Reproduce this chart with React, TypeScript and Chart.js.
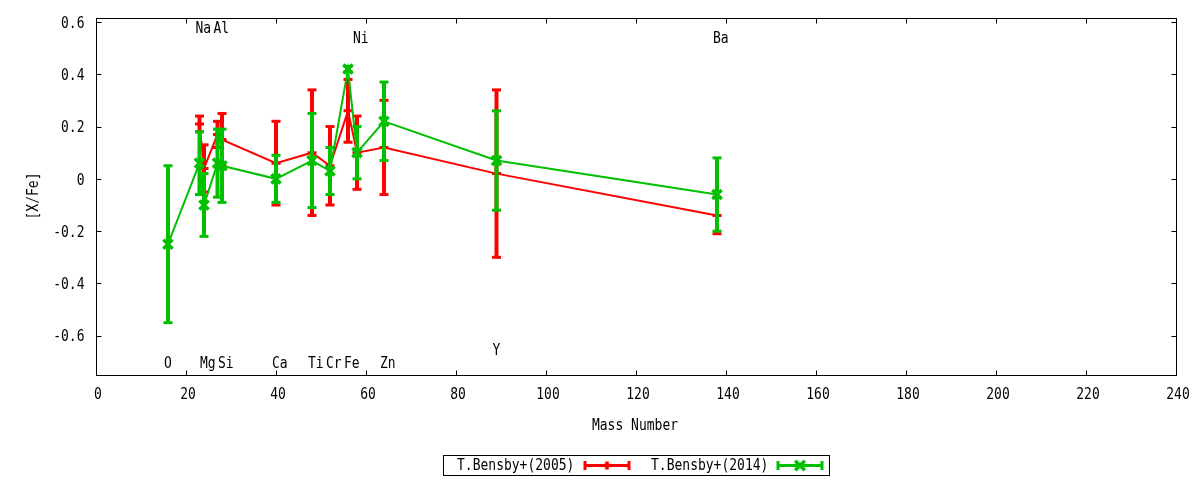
import React, { useEffect, useRef } from "react";
import { Chart, registerables } from "chart.js";

Chart.register(...registerables);

const series2005Name = "T.Bensby+(2005)";
const series2014Name = "T.Bensby+(2014)";

const mass2005 = [23, 24, 27, 28, 40, 48, 52, 56, 58, 64, 89, 138];
const value2005 = [0.21, 0.04, 0.17, 0.15, 0.06, 0.1, 0.05, 0.26, 0.1, 0.12, 0.02, -0.14];
const error2005 = [0.03, 0.09, 0.05, 0.1, 0.16, 0.24, 0.15, 0.12, 0.14, 0.18, 0.32, 0.07];

const mass2014 = [16, 23, 24, 27, 28, 40, 48, 52, 56, 58, 64, 89, 138];
const value2014 = [-0.25, 0.06, -0.1, 0.06, 0.05, 0.0, 0.07, 0.03, 0.42, 0.1, 0.22, 0.07, -0.06];
const error2014 = [0.3, 0.12, 0.12, 0.13, 0.14, 0.09, 0.18, 0.09, 0.01, 0.1, 0.15, 0.19, 0.14];

const elementNames = ["O", "Na", "Mg", "Al", "Si", "Ca", "Ti", "Cr", "Fe", "Ni", "Zn", "Y", "Ba"];
const elementMass = [16, 23, 24, 27, 28, 40, 48, 52, 56, 58, 64, 89, 138];
const elementLabelY = [-0.7, 0.58, -0.7, 0.58, -0.7, -0.7, -0.7, -0.7, -0.7, 0.54, -0.7, -0.65, 0.54];

const xTicks = [0, 20, 40, 60, 80, 100, 120, 140, 160, 180, 200, 220, 240];
const yTicks = [-0.6, -0.4, -0.2, 0, 0.2, 0.4, 0.6];
const xRange = [0, 240];
const yRange = [-0.75, 0.615];

const xTitle = "Mass Number";
const yTitle = "[X/Fe]";

const RED = "#ff0000";
const GREEN = "#00c000";
const FONT_FAMILY = '"DejaVu Sans Mono", "Liberation Mono", monospace';
const FONT = `13px ${FONT_FAMILY}`;
const STRETCH = 1.22;

const errorSets = [
  { mass: mass2005, value: value2005, error: error2005, color: RED },
  { mass: mass2014, value: value2014, error: error2014, color: GREEN },
];

function text(ctx: CanvasRenderingContext2D, s: string, x: number, y: number, align: CanvasTextAlign, rot = 0) {
  ctx.save();
  ctx.translate(x, y);
  if (rot) ctx.rotate(rot);
  ctx.scale(1, STRETCH);
  ctx.textAlign = align;
  ctx.textBaseline = "middle";
  ctx.fillText(s, 0, 1.3);
  ctx.restore();
}

function drawMarker(ctx: CanvasRenderingContext2D, style: string, x: number, y: number, r: number, color: string, w: number) {
  ctx.save();
  ctx.strokeStyle = color;
  ctx.lineWidth = w;
  ctx.beginPath();
  if (style === "cross") {
    ctx.moveTo(x - r, y);
    ctx.lineTo(x + r, y);
    ctx.moveTo(x, y - r);
    ctx.lineTo(x, y + r);
  } else {
    const d = r * 0.8;
    ctx.moveTo(x - d, y - d);
    ctx.lineTo(x + d, y + d);
    ctx.moveTo(x - d, y + d);
    ctx.lineTo(x + d, y - d);
  }
  ctx.stroke();
  ctx.restore();
}

const gnuplotPlugin = {
  id: "gnuplotLook",
  beforeDatasetsDraw(chart: any) {
    const { ctx, chartArea: a, scales } = chart;
    ctx.save();
    ctx.strokeStyle = "#000";
    ctx.lineWidth = 1;
    const L = Math.round(a.left) + 0.5;
    const R = Math.round(a.right) + 0.5;
    const T = Math.round(a.top) + 0.5;
    const B = Math.round(a.bottom) + 0.5;
    ctx.strokeRect(L, T, R - L, B - T);
    ctx.beginPath();
    const tl = 5;
    for (const t of scales.x.ticks) {
      const px = Math.round(scales.x.getPixelForValue(t.value)) + 0.5;
      ctx.moveTo(px, B);
      ctx.lineTo(px, B - tl);
      ctx.moveTo(px, T);
      ctx.lineTo(px, T + tl);
    }
    for (const t of scales.y.ticks) {
      const py = Math.round(scales.y.getPixelForValue(t.value)) + 0.5;
      ctx.moveTo(L, py);
      ctx.lineTo(L + tl, py);
      ctx.moveTo(R, py);
      ctx.lineTo(R - tl, py);
    }
    ctx.stroke();

    // tick labels
    ctx.fillStyle = "#000";
    ctx.font = FONT;
    for (const t of scales.x.ticks) {
      const px = scales.x.getPixelForValue(t.value);
      text(ctx, String(t.value), px + 2, B + 18, "center");
    }
    for (const t of scales.y.ticks) {
      const py = scales.y.getPixelForValue(t.value);
      text(ctx, String(Math.round(t.value * 10) / 10), L - 12, py, "right");
    }
    ctx.restore();
  },
  beforeDatasetDraw(chart: any, args: any) {
    const set = errorSets[args.index];
    if (!set) return;
    const { ctx, scales } = chart;
    ctx.save();
    ctx.fillStyle = set.color;
    set.mass.forEach((m, i) => {
      const x = scales.x.getPixelForValue(m);
      const yt = scales.y.getPixelForValue(set.value[i] + set.error[i]);
      const yb = scales.y.getPixelForValue(set.value[i] - set.error[i]);
      ctx.fillRect(x - 2, yt, 4, yb - yt);
      ctx.fillRect(x - 4.5, yt - 1.5, 9, 3);
      ctx.fillRect(x - 4.5, yb - 1.5, 9, 3);
    });
    ctx.restore();
  },
  afterDraw(chart: any) {
    const { ctx, scales } = chart;
    ctx.save();
    ctx.fillStyle = "#000";
    ctx.font = FONT;
    elementNames.forEach((name, i) => {
      const x = scales.x.getPixelForValue(elementMass[i]) - 4;
      const y = scales.y.getPixelForValue(elementLabelY[i]);
      text(ctx, name, x, y, "left");
    });

    text(ctx, xTitle, 635, 424, "center");
    text(ctx, yTitle, 32, 196, "center", -Math.PI / 2);

    // legend
    ctx.strokeStyle = "#000";
    ctx.lineWidth = 1;
    ctx.strokeRect(443.5, 455.5, 386, 20);
    const ly = 465.5;
    const entries = [
      { name: series2005Name, tx: 457, x0: 585, x1: 629, color: RED, style: "cross", r: 4 },
      { name: series2014Name, tx: 651, x0: 778, x1: 822, color: GREEN, style: "crossRot", r: 6 },
    ];
    for (const e of entries) {
      ctx.fillStyle = "#000";
      text(ctx, e.name, e.tx, ly - 1, "left");
      ctx.fillStyle = e.color;
      ctx.fillRect(e.x0, ly - 1.5, e.x1 - e.x0, 3);
      ctx.fillRect(e.x0 - 1.5, ly - 4.5, 3, 9);
      ctx.fillRect(e.x1 - 1.5, ly - 4.5, 3, 9);
      drawMarker(ctx, e.style, (e.x0 + e.x1) / 2, ly, e.r, e.color, 3.5);
    }
    ctx.restore();
  },
};

export default function App() {
  const canvasRef = useRef<HTMLCanvasElement | null>(null);

  useEffect(() => {
    document.body.style.margin = "0";
    const canvas = canvasRef.current;
    if (!canvas) return;
    const chart = new Chart(canvas, {
      type: "line",
      data: {
        datasets: [
          {
            label: series2005Name,
            data: mass2005.map((m, i) => ({ x: m, y: value2005[i] })),
            borderColor: RED,
            backgroundColor: RED,
            borderWidth: 2,
            pointStyle: "cross",
            pointRadius: 4.5,
            pointBorderWidth: 3,
            pointBorderColor: RED,
            fill: false,
            tension: 0,
            order: 1,
          },
          {
            label: series2014Name,
            data: mass2014.map((m, i) => ({ x: m, y: value2014[i] })),
            borderColor: GREEN,
            backgroundColor: GREEN,
            borderWidth: 2,
            pointStyle: "crossRot",
            pointRadius: 6.5,
            pointBorderWidth: 3.5,
            pointBorderColor: GREEN,
            fill: false,
            tension: 0,
            order: 0,
          },
        ],
      },
      options: {
        animation: false,
        responsive: false,
        devicePixelRatio: 1,
        layout: { padding: { left: 0, right: 24, top: 18, bottom: 0 } },
        plugins: {
          legend: { display: false },
          tooltip: { enabled: false },
        },
        scales: {
          x: {
            type: "linear",
            min: xRange[0],
            max: xRange[1],
            afterBuildTicks: (s: any) => {
              s.ticks = xTicks.map((v) => ({ value: v }));
            },
            afterFit: (s: any) => {
              s.height = 105;
            },
            grid: { display: false, drawTicks: false },
            border: { display: false },
            ticks: { display: false },
          },
          y: {
            type: "linear",
            min: yRange[0],
            max: yRange[1],
            afterBuildTicks: (s: any) => {
              s.ticks = yTicks.map((v) => ({ value: v }));
            },
            afterFit: (s: any) => {
              s.width = 96;
            },
            grid: { display: false, drawTicks: false },
            border: { display: false },
            ticks: { display: false },
          },
        },
      },
      plugins: [gnuplotPlugin],
    } as any);
    return () => chart.destroy();
  }, []);

  return (
    <div style={{ width: 1200, height: 480, background: "#fff" }}>
      <canvas ref={canvasRef} width={1200} height={480} style={{ display: "block", width: 1200, height: 480 }} />
    </div>
  );
}
